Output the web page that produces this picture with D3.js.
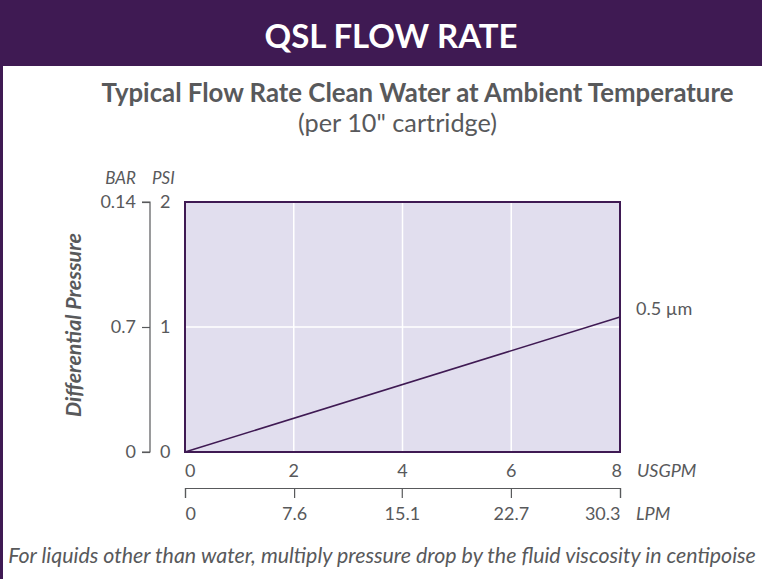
<!DOCTYPE html>
<html><head><meta charset="utf-8">
<script src="https://cdn.jsdelivr.net/npm/d3@7/dist/d3.min.js"></script>
<style>
html,body{margin:0;padding:0;background:#fff;}
svg text{font-family:Lato,"Open Sans",sans-serif;}
</style></head>
<body><svg id="c" width="762" height="579"></svg>
<script>
const title = "QSL FLOW RATE";
const subtitle = "Typical Flow Rate Clean Water at Ambient Temperature";
const subtitle2 = "(per 10\" cartridge)";
const footnote = "For liquids other than water, multiply pressure drop by the fluid viscosity in centipoise";
const usgpmTicks = [0, 2, 4, 6, 8];
const lpmTicks = [0, 7.6, 15.1, 22.7, 30.3];
const psiTicks = [0, 1, 2];
const barTicks = [0, 0.07, 0.14];
const barLabels = ["0", "0.7", "0.14"];
const flowUSGPM = [0, 8];
const pressurePSI = [0, 1.08];
const seriesLabel = "0.5 µm";

const purple = "#3f1a53", gray = "#58595b", fill = "#e1deee";
const svg = d3.select("#c");
const L = 185, R = 620, T = 202, B = 452;

function fit(sel, w) {
  const fs = parseFloat(sel.attr("font-size"));
  const cur = sel.node().getComputedTextLength();
  sel.attr("font-size", (fs * w / cur).toFixed(2));
  return sel;
}
const anchorFor = (i, n) => i === 0 ? "start" : (i === n - 1 ? "end" : "middle");

// frame
svg.append("rect").attr("x",0).attr("y",0).attr("width",762).attr("height",66).attr("fill",purple);
svg.append("rect").attr("x",0).attr("y",66).attr("width",3).attr("height",513).attr("fill",purple);
fit(svg.append("text").attr("x",391).attr("y",48).attr("text-anchor","middle").attr("fill","#fff")
  .attr("font-size",30).attr("font-weight",700).text(title), 253);
fit(svg.append("text").attr("x",417.5).attr("y",102).attr("text-anchor","middle").attr("fill",gray)
  .attr("font-size",22).attr("font-weight",700).text(subtitle), 632);
fit(svg.append("text").attr("x",397.5).attr("y",132).attr("text-anchor","middle").attr("fill",gray)
  .attr("font-size",22).text(subtitle2), 199);

const x = d3.scaleLinear().domain([0,8]).range([L,R]);
const xl = d3.scaleLinear().domain([0,30.3]).range([L,R]);
const y = d3.scaleLinear().domain([0,2]).range([B,T]);
const yb = d3.scaleLinear().domain([0,0.14]).range([B,T]);

svg.append("rect").attr("x",L).attr("y",T).attr("width",R-L).attr("height",B-T).attr("fill",fill);
// grid
svg.append("g").selectAll("line").data(usgpmTicks.filter(d=>d>0&&d<8)).join("line")
  .attr("x1",d=>x(d)).attr("x2",d=>x(d)).attr("y1",T).attr("y2",B).attr("stroke","#fff").attr("stroke-width",1.5);
svg.append("g").selectAll("line").data(psiTicks.filter(d=>d>0&&d<2)).join("line")
  .attr("x1",L).attr("x2",R).attr("y1",d=>y(d)).attr("y2",d=>y(d)).attr("stroke","#fff").attr("stroke-width",1.5);
svg.append("rect").attr("x",L).attr("y",T).attr("width",R-L).attr("height",B-T).attr("fill","none")
  .attr("stroke",purple).attr("stroke-width",2);

// series
const pts = flowUSGPM.map((d,i)=>[d,pressurePSI[i]]);
svg.append("path").datum(pts).attr("d",d3.line().x(d=>x(d[0])).y(d=>y(d[1])))
  .attr("fill","none").attr("stroke",purple).attr("stroke-width",1.6);
svg.append("text").attr("x",636).attr("y",y(pressurePSI[1])-2).attr("fill",gray).attr("font-size",18).text(seriesLabel);

// PSI labels
svg.append("g").selectAll("text").data(psiTicks).join("text")
  .attr("x",160).attr("y",d=>y(d)+6).attr("fill",gray).attr("font-size",18).text(d=>d);
// BAR axis
const barAxis = d3.axisLeft(yb).tickValues(barTicks).tickFormat((d,i)=>barLabels[i]).tickSize(8).tickPadding(6);
const gb = svg.append("g").attr("transform","translate(150,0)").call(barAxis);
gb.select(".domain").attr("stroke",gray).attr("stroke-width",1.2).attr("d",`M-8,${T}H0V${B}H-8`);
gb.selectAll(".tick line").attr("stroke",gray).attr("stroke-width",1.2);
gb.selectAll(".tick text").attr("fill",gray).attr("font-size",18).attr("font-family","Lato");
svg.append("text").attr("x",136).attr("y",184).attr("text-anchor","end").attr("fill",gray)
  .attr("font-size",17).attr("font-style","italic").text("BAR");
svg.append("text").attr("x",152).attr("y",184).attr("fill",gray)
  .attr("font-size",17).attr("font-style","italic").text("PSI");
fit(svg.append("text").attr("transform","translate(81,325) rotate(-90)").attr("text-anchor","middle")
  .attr("fill",gray).attr("font-size",19).attr("font-weight",700).attr("font-style","italic")
  .text("Differential Pressure"), 184);

// USGPM labels
svg.append("g").selectAll("text").data(usgpmTicks).join("text")
  .attr("x",(d,i)=>x(d) + (i===usgpmTicks.length-1 ? 2 : 0)).attr("y",477)
  .attr("text-anchor",(d,i)=>anchorFor(i,usgpmTicks.length)).attr("fill",gray).attr("font-size",18).text(d=>d);
svg.append("text").attr("x",637).attr("y",477).attr("fill",gray).attr("font-size",18).attr("font-style","italic").text("USGPM");

// LPM axis
const lpmAxis = d3.axisBottom(xl).tickValues(lpmTicks).tickFormat(d=>d).tickSize(10).tickPadding(9);
const gl = svg.append("g").attr("transform","translate(0,488)").call(lpmAxis);
gl.select(".domain").attr("stroke",gray).attr("stroke-width",1.2);
gl.selectAll(".tick line").attr("stroke",gray).attr("stroke-width",1.2);
gl.selectAll(".tick text").attr("fill",gray).attr("font-size",18).attr("font-family","Lato")
  .attr("dy",null).attr("y",32)
  .attr("text-anchor",(d,i)=>anchorFor(i,lpmTicks.length));
svg.append("text").attr("x",636).attr("y",520).attr("fill",gray).attr("font-size",18).attr("font-style","italic").text("LPM");

fit(svg.append("text").attr("x",382).attr("y",563).attr("text-anchor","middle").attr("fill",gray)
  .attr("font-size",18).attr("font-style","italic").text(footnote), 748);
</script></body></html>
